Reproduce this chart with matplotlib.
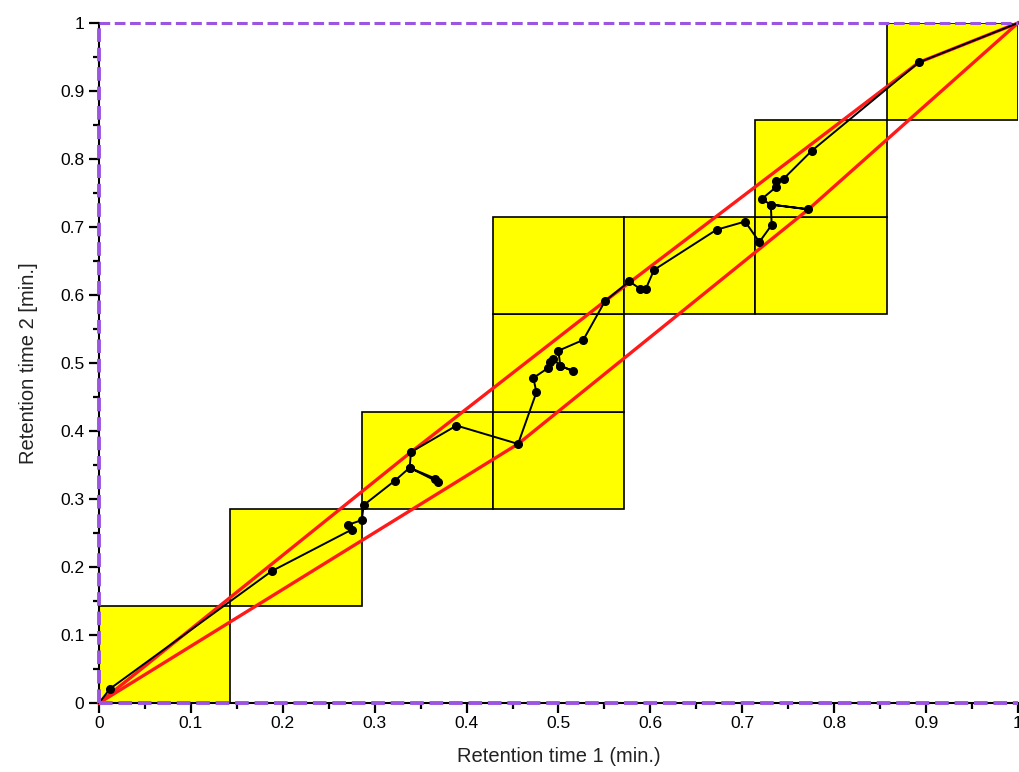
import matplotlib
matplotlib.use("Agg")
import matplotlib.pyplot as plt
from matplotlib.patches import Rectangle
from matplotlib.ticker import MultipleLocator

# grid cells (column, row) of the yellow windows, cell size 1/7
cell = 1.0 / 7
boxes = [(0, 0), (1, 1), (2, 2), (3, 2), (3, 3), (3, 4), (4, 4), (5, 4), (5, 5), (6, 6)]

# warping path
path_x = [0.0, 0.012, 0.188, 0.275, 0.271, 0.286, 0.288, 0.322, 0.338, 0.369, 0.366,
          0.338, 0.3395, 0.389, 0.456, 0.476, 0.4726, 0.489, 0.491, 0.494, 0.502,
          0.516, 0.502, 0.4998, 0.527, 0.5506, 0.577, 0.589, 0.595, 0.604, 0.672,
          0.703, 0.7186, 0.732, 0.731, 0.772, 0.731, 0.721, 0.737, 0.737, 0.745,
          0.7755, 0.892, 1.0]
path_y = [0.0, 0.021, 0.194, 0.255, 0.262, 0.269, 0.291, 0.327, 0.346, 0.325, 0.330,
          0.346, 0.369, 0.408, 0.381, 0.457, 0.478, 0.493, 0.501, 0.506, 0.496,
          0.488, 0.496, 0.518, 0.534, 0.591, 0.620, 0.609, 0.609, 0.637, 0.696,
          0.708, 0.678, 0.703, 0.733, 0.726, 0.733, 0.741, 0.759, 0.768, 0.771,
          0.812, 0.942, 1.0]

# red bounds
upper_x = [0.0, 0.3395, 0.5506, 0.892, 1.0]
upper_y = [0.0, 0.369, 0.591, 0.942, 1.0]
lower_x = [0.0, 0.456, 0.772, 1.0]
lower_y = [0.0, 0.381, 0.726, 1.0]

tick_vals = [0, 0.1, 0.2, 0.3, 0.4, 0.5, 0.6, 0.7, 0.8, 0.9, 1]
tick_text = ["0", "0.1", "0.2", "0.3", "0.4", "0.5", "0.6", "0.7", "0.8", "0.9", "1"]

purple = "#9b55e0"
font = ["Liberation Sans", "DejaVu Sans"]

fig = plt.figure(figsize=(10.2, 7.72), dpi=100)
ax = fig.add_axes([99 / 1020, 69 / 772, 919 / 1020, 680 / 772])

for cx, cy in boxes:
    ax.add_patch(Rectangle((cx * cell, cy * cell), cell, cell, facecolor="#ffff00",
                           edgecolor="black", linewidth=1.2, zorder=1))

ax.plot(upper_x, upper_y, color="#ff1a1a", lw=2.4, zorder=3, clip_on=False)
ax.plot(lower_x, lower_y, color="#ff1a1a", lw=2.4, zorder=3, clip_on=False)
ax.plot(path_x, path_y, color="black", lw=1.4, marker="o", ms=5.5,
        markevery=slice(1, -1), zorder=4, clip_on=False)

# dashed purple borders
ax.axhline(0, color=purple, lw=2.8, ls=(0, (3.5, 1.5)), zorder=5, clip_on=False)
ax.axhline(1, color=purple, lw=2.2, ls=(0, (3.5, 1.5)), zorder=5, clip_on=False)
ax.axvline(0, color=purple, lw=2.8, ls=(0, (3.5, 1.5)), zorder=5, clip_on=False)

ax.set_xlim(0, 1)
ax.set_ylim(0, 1)
ax.spines["top"].set_visible(False)
ax.spines["right"].set_visible(False)
ax.spines["left"].set_linewidth(1.5)
ax.spines["bottom"].set_linewidth(1.5)

ax.xaxis.set_minor_locator(MultipleLocator(0.05))
ax.yaxis.set_minor_locator(MultipleLocator(0.05))
ax.tick_params(which="major", length=7, width=1.6, direction="out")
ax.tick_params(which="minor", length=4, width=1.6, direction="out")
ax.tick_params(axis="x", pad=2)

ax.set_xticks(tick_vals)
ax.set_xticklabels(tick_text, family=font, fontsize=12.5)
ax.set_yticks(tick_vals)
ax.set_yticklabels(tick_text, family=font, fontsize=12.5)

ax.set_xlabel("Retention time 1 (min.)", family=font, fontsize=14.5,
              labelpad=12, color="#222222")
ax.set_ylabel("Retention time 2 [min.]", family=font, fontsize=14.5,
              labelpad=16, color="#222222")

fig.savefig("out.png", dpi=100)
